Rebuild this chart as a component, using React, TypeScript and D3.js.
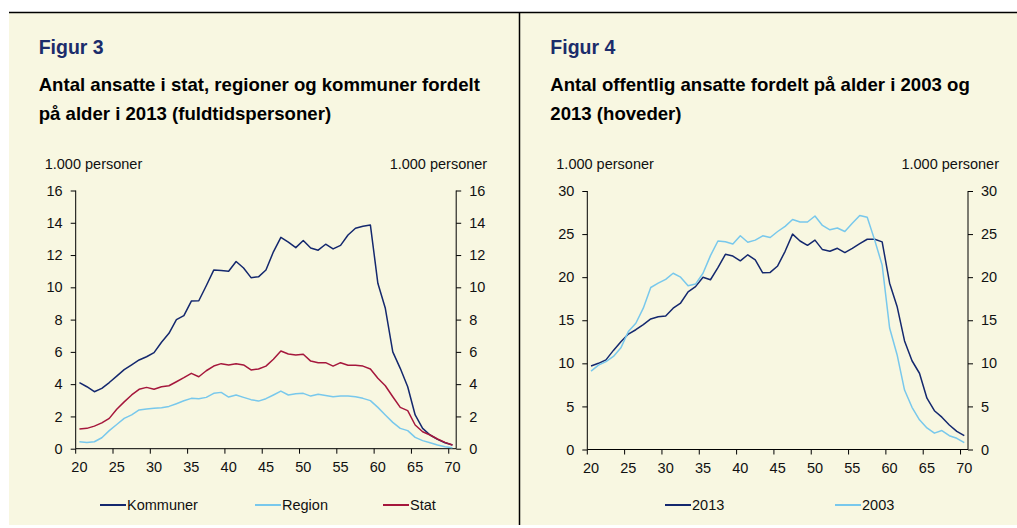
import React, { useEffect, useRef } from "react";
import * as d3 from "d3";

// ages 20..70 (one category per year)
const ages = d3.range(20, 71);

// Figur 3, 1.000 fuldtidspersoner
const kommuner = [
  4.09, 3.84, 3.53, 3.74, 4.1, 4.5, 4.9, 5.2, 5.5, 5.7,
  5.95, 6.6, 7.15, 8.0, 8.25, 9.15, 9.17, 10.1, 11.07, 11.05,
  11.0, 11.6, 11.2, 10.6, 10.65, 11.07, 12.2, 13.1, 12.8, 12.46,
  12.9, 12.44, 12.3, 12.67, 12.38, 12.6, 13.24, 13.66, 13.78, 13.86,
  10.25, 8.7, 6.0, 4.98, 3.84, 2.09, 1.26, 0.85, 0.58, 0.37, 0.23,
];
const region = [
  0.43, 0.39, 0.43, 0.68, 1.12, 1.5, 1.88, 2.1, 2.4, 2.46,
  2.5, 2.54, 2.62, 2.79, 2.97, 3.12, 3.1, 3.18, 3.43, 3.49,
  3.2, 3.33, 3.18, 3.04, 2.95, 3.1, 3.33, 3.57, 3.33, 3.4,
  3.43, 3.26, 3.37, 3.3, 3.22, 3.26, 3.26, 3.22, 3.12, 2.98,
  2.56, 2.09, 1.63, 1.26, 1.12, 0.7, 0.5, 0.37, 0.23, 0.12, 0.06,
];
const stat = [
  1.22, 1.26, 1.4, 1.6, 1.88, 2.44, 2.9, 3.33, 3.68, 3.8,
  3.68, 3.84, 3.9, 4.15, 4.4, 4.67, 4.46, 4.83, 5.12, 5.27,
  5.19, 5.27, 5.19, 4.88, 4.94, 5.12, 5.54, 6.05, 5.87, 5.8,
  5.85, 5.43, 5.33, 5.33, 5.12, 5.33, 5.17, 5.17, 5.12, 4.94,
  4.36, 3.9, 3.22, 2.56, 2.36, 1.47, 1.05, 0.85, 0.6, 0.39, 0.23,
];

// Figur 4, 1.000 hoveder
const y2013 = [
  9.7, 10.0, 10.4, 11.5, 12.5, 13.4, 13.9, 14.5, 15.15, 15.4,
  15.5, 16.4, 17.0, 18.3, 18.9, 20.0, 19.7, 21.1, 22.65, 22.45,
  21.9, 22.6, 22.0, 20.5, 20.55, 21.3, 23.0, 25.0, 24.2, 23.7,
  24.3, 23.2, 23.0, 23.35, 22.85, 23.35, 23.9, 24.4, 24.4, 24.1,
  19.3, 16.6, 12.6, 10.3, 8.85, 5.95, 4.5, 3.75, 2.85, 2.1, 1.6,
];
const y2003 = [
  9.1, 9.8, 10.2, 10.8, 11.8, 13.7, 14.65, 16.4, 18.8, 19.3,
  19.75, 20.45, 20.0, 19.0, 19.2, 20.45, 22.5, 24.2, 24.1, 23.85,
  24.8, 24.05, 24.3, 24.8, 24.6, 25.3, 25.9, 26.7, 26.4, 26.4,
  27.1, 26.0, 25.5, 25.7, 25.3, 26.25, 27.15, 26.95, 24.3, 21.4,
  14.1, 11.0, 6.9, 4.9, 3.45, 2.5, 1.9, 2.2, 1.6, 1.3, 0.8,
];

const xTickLabels = [20, 25, 30, 35, 40, 45, 50, 55, 60, 65, 70];
const ticks3 = [0, 2, 4, 6, 8, 10, 12, 14, 16];
const ticks4 = [0, 5, 10, 15, 20, 25, 30];

const FONT = "'Liberation Sans', Arial, sans-serif";
const BG = "#f8f7e1";
const NAVY = "#14286e";
const LIGHT = "#78c8ec";
const RED = "#a5173c";

type Series = { name: string; values: number[]; color: string };

function drawPanel(svg: any, opts: {
  x0: number; x1: number; yBottom: number; yTop: number;
  max: number; ticks: number[];
  figur: string; title: string[];
  series: Series[]; legendX: number[];
}) {
  const { x0, x1, yBottom, yTop, max, ticks } = opts;
  const g = svg.append("g");

  const x = d3.scaleBand<number>().domain(ages).range([x0, x1]).paddingInner(0).paddingOuter(0);
  const y = d3.scaleLinear().domain([0, max]).range([yBottom, yTop]);
  const cx = (a: number) => (x(a) as number) + x.bandwidth() / 2;

  // titles
  g.append("text")
    .attr("x", x0 - 37).attr("y", 54)
    .attr("font-family", FONT).attr("font-size", 19.5).attr("font-weight", "bold")
    .attr("fill", "#1b2c6b")
    .text(opts.figur);
  opts.title.forEach((t, i) => {
    g.append("text")
      .attr("x", x0 - 37).attr("y", 91 + i * 29)
      .attr("font-family", FONT).attr("font-size", 18.6).attr("font-weight", "bold")
      .attr("fill", "#000")
      .text(t);
  });

  // unit labels
  g.append("text")
    .attr("x", x0 - 31).attr("y", 169)
    .attr("font-family", FONT).attr("font-size", 14.5).attr("fill", "#111")
    .text("1.000 personer");
  g.append("text")
    .attr("x", x1 + 31).attr("y", 169).attr("text-anchor", "end")
    .attr("font-family", FONT).attr("font-size", 14.5).attr("fill", "#111")
    .text("1.000 personer");

  // y axes
  const left = g.append("g").attr("transform", `translate(${x0},0)`)
    .call(d3.axisLeft(y).tickValues(ticks).tickSize(5).tickPadding(8).tickFormat(d3.format("d")));
  const right = g.append("g").attr("transform", `translate(${x1},0)`)
    .call(d3.axisRight(y).tickValues(ticks).tickSize(5).tickPadding(8).tickFormat(d3.format("d")));
  [left, right].forEach((ax) => {
    ax.select(".domain").attr("stroke", "#000").attr("d", `M0,${yBottom}V${yTop}`);
    ax.selectAll("line").attr("stroke", "#000");
    ax.selectAll("text").attr("font-family", FONT).attr("font-size", 14.5).attr("fill", "#111");
  });

  // x axis: ticks on category boundaries, labels on category centres
  g.append("line")
    .attr("x1", x0).attr("x2", x1).attr("y1", yBottom).attr("y2", yBottom)
    .attr("stroke", "#000");
  g.selectAll(".xtick").data(xTickLabels).enter().append("line")
    .attr("x1", (d) => x(d) as number).attr("x2", (d) => x(d) as number)
    .attr("y1", yBottom).attr("y2", yBottom + 5)
    .attr("stroke", "#000");
  g.selectAll(".xlab").data(xTickLabels).enter().append("text")
    .attr("x", (d) => cx(d)).attr("y", yBottom + 23)
    .attr("text-anchor", "middle")
    .attr("font-family", FONT).attr("font-size", 14.5).attr("fill", "#111")
    .text((d) => d);

  const line = d3.line<number>()
    .x((_, i) => cx(ages[i]))
    .y((d) => y(d));

  opts.series.forEach((s) => {
    g.append("path")
      .datum(s.values)
      .attr("fill", "none")
      .attr("stroke", s.color)
      .attr("stroke-width", 1.5)
      .attr("stroke-linejoin", "round")
      .attr("d", line);
  });

  // legend
  opts.series.forEach((s, i) => {
    const lx = opts.legendX[i];
    g.append("line")
      .attr("x1", lx).attr("x2", lx + 26).attr("y1", 505).attr("y2", 505)
      .attr("stroke", s.color).attr("stroke-width", 2);
    g.append("text")
      .attr("x", lx + 27).attr("y", 510)
      .attr("font-family", FONT).attr("font-size", 14.5).attr("fill", "#111")
      .text(s.name);
  });
}

const App = () => {
  const svgRef = useRef<SVGSVGElement>(null);

  useEffect(() => {
    const svg = d3.select(svgRef.current);
    svg.selectAll("*").remove();

    svg.append("rect")
      .attr("x", 9).attr("y", 12).attr("width", 1017 - 9).attr("height", 513)
      .attr("fill", BG);
    svg.append("line")
      .attr("x1", 9).attr("x2", 1017).attr("y1", 12.5).attr("y2", 12.5)
      .attr("stroke", "#000").attr("stroke-width", 1.5);
    svg.append("line")
      .attr("x1", 519.5).attr("x2", 519.5).attr("y1", 12).attr("y2", 525)
      .attr("stroke", "#000").attr("stroke-width", 1.5);

    drawPanel(svg, {
      x0: 75.7, x1: 456.2, yBottom: 448.7, yTop: 190.5, max: 16, ticks: ticks3,
      figur: "Figur 3",
      title: ["Antal ansatte i stat, regioner og kommuner fordelt", "på alder i 2013 (fuldtidspersoner)"],
      series: [
        { name: "Kommuner", values: kommuner, color: NAVY },
        { name: "Region", values: region, color: LIGHT },
        { name: "Stat", values: stat, color: RED },
      ],
      legendX: [100, 255, 383],
    });

    drawPanel(svg, {
      x0: 587.3, x1: 968, yBottom: 449.5, yTop: 191, max: 30, ticks: ticks4,
      figur: "Figur 4",
      title: ["Antal offentlig ansatte fordelt på alder i 2003 og", "2013 (hoveder)"],
      series: [
        { name: "2013", values: y2013, color: NAVY },
        { name: "2003", values: y2003, color: LIGHT },
      ],
      legendX: [665, 835],
    });
  }, []);

  return (
    <svg
      ref={svgRef}
      width={1017}
      height={528}
      style={{ position: "absolute", left: 0, top: 0, background: "#fff" }}
    />
  );
};

export default App;
